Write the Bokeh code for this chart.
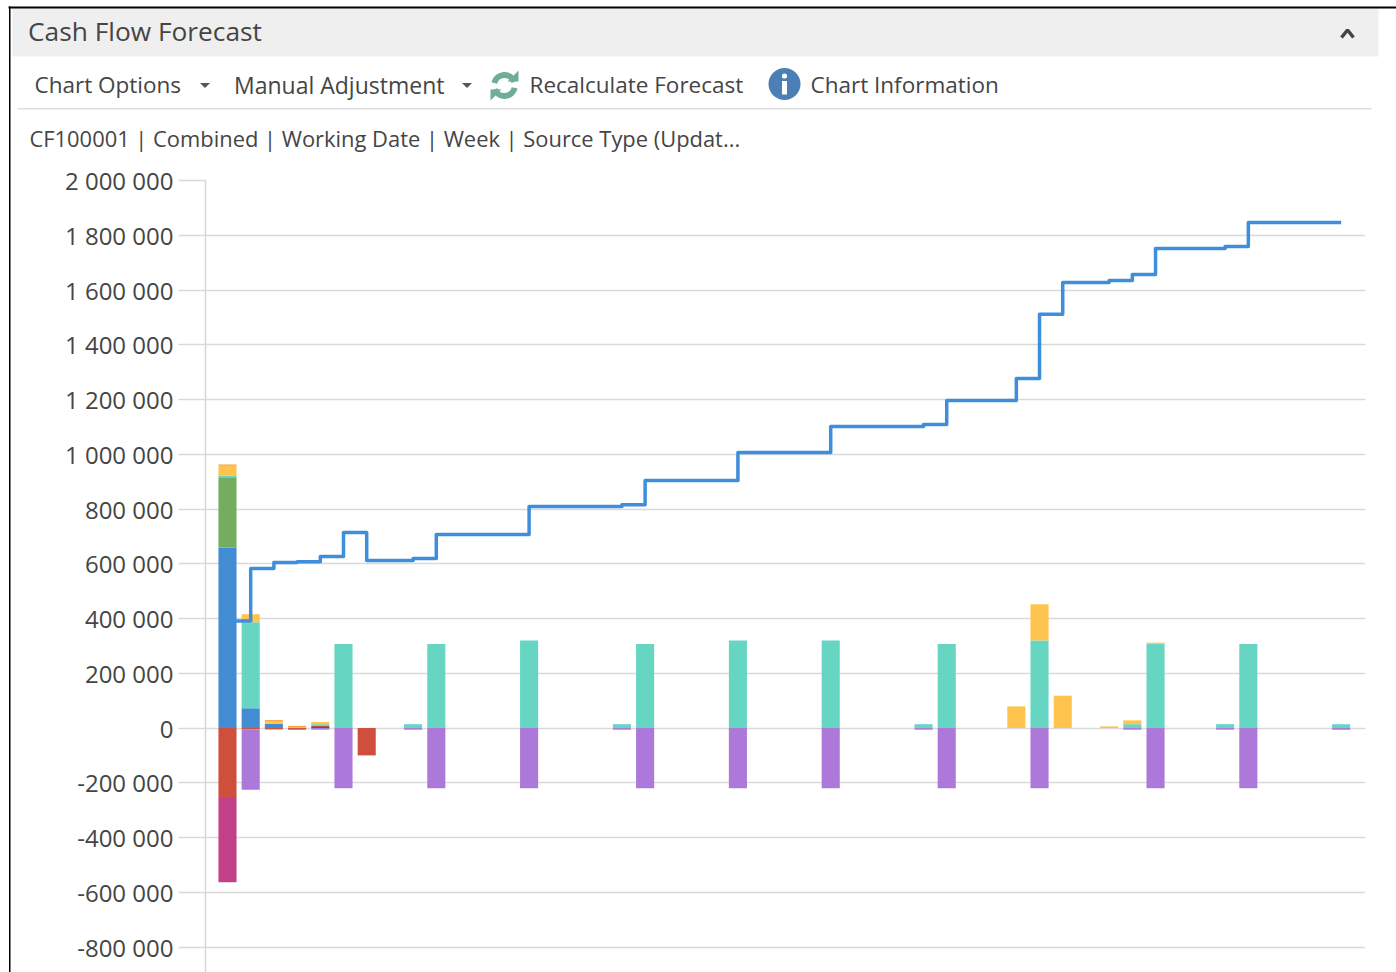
from bokeh.embed import file_html
from bokeh.resources import INLINE
from bokeh.plotting import figure
from bokeh.models import ColumnDataSource, Range1d, FixedTicker
from bokeh.core.properties import value

FONT = "Open Sans"
TEXT = "#454545"

# ---- data (values in currency units) ----
weeks =      [0, 1, 2, 3, 4, 5, 6, 8, 9, 13, 17, 18, 22, 26, 30, 31, 34, 35, 36, 38, 39, 40, 43, 44, 48]
dark_pos =   [0, 0, 0, 0, 7000, 0, 0, 0, 0, 0, 0, 0, 0, 0, 0, 0, 0, 0, 0, 0, 0, 0, 0, 0, 0]
blue =       [659000, 72000, 15000, 0, 0, 0, 0, 0, 0, 0, 0, 0, 0, 0, 0, 0, 0, 0, 0, 0, 0, 0, 0, 0, 0]
green =      [257000, 0, 0, 0, 0, 0, 0, 0, 0, 0, 0, 0, 0, 0, 0, 0, 0, 0, 0, 0, 0, 0, 0, 0, 0]
teal =       [6000, 314000, 0, 0, 7000, 307000, 0, 14000, 307000, 320000, 14000, 307000, 320000, 320000, 14000, 307000, 0, 320000, 0, 0, 14000, 308000, 14000, 307000, 14000]
yellow =     [36000, 30000, 10000, 4000, 8000, 0, 0, 0, 0, 0, 0, 0, 0, 0, 0, 0, 79000, 132000, 118000, 6000, 14000, 4000, 0, 0, 0]
orange =     [5000, 0, 4000, 4000, 0, 0, 0, 0, 0, 0, 0, 0, 0, 0, 0, 0, 0, 0, 0, 0, 0, 0, 0, 0, 0]
red =        [-256000, -5000, -5000, -6000, 0, 0, -100000, 0, 0, 0, 0, 0, 0, 0, 0, 0, 0, 0, 0, 0, 0, 0, 0, 0, 0]
purple =     [0, -220000, 0, 0, -6000, -220000, 0, -6000, -220000, -220000, -6000, -220000, -220000, -220000, -6000, -220000, 0, -220000, 0, 0, -6000, -220000, -6000, -220000, -6000]
magenta =    [-307000, 0, 0, 0, 0, 0, 0, 0, 0, 0, 0, 0, 0, 0, 0, 0, 0, 0, 0, 0, 0, 0, 0, 0, 0]

balance_x = [0.13, 1, 2, 3, 4, 5, 6, 8, 9, 13, 17, 18, 22, 26, 30, 31, 34, 35, 36, 38, 39, 40, 43, 44, 48]
balance_y = [391000, 583000, 605000, 607000, 627000, 714000, 612000, 619000, 707000, 809000, 816000, 904000,
             1006000, 1101000, 1109000, 1196000, 1277000, 1511000, 1627000, 1635000, 1657000, 1752000,
             1759000, 1847000, 1847000]

y_ticks = [2000000, 1800000, 1600000, 1400000, 1200000, 1000000, 800000, 600000, 400000, 200000, 0,
           -200000, -400000, -600000, -800000]
y_labels = ["2 000 000", "1 800 000", "1 600 000", "1 400 000", "1 200 000", "1 000 000", "800 000", "600 000",
            "400 000", "200 000", "0", "-200 000", "-400 000", "-600 000", "-800 000"]

title = "Cash Flow Forecast"
menu_items = ["Chart Options", "Manual Adjustment", "Recalculate Forecast", "Chart Information"]
subtitle = "CF100001 | Combined | Working Date | Week | Source Type (Updat..."

# ---- header panel, drawn in page pixels ----
head = figure(width=1396, height=158, x_range=Range1d(0, 1396), y_range=Range1d(158, 0),
              x_axis_type=None, y_axis_type=None, toolbar_location=None, output_backend="svg",
              min_border=0, outline_line_color=None)
head.grid.visible = False
head.quad(left=[12], right=[1378], top=[8], bottom=[56], fill_color="#efefef", line_color=None)
head.quad(left=[8], right=[1396], top=[6], bottom=[8], fill_color="#000000", line_color=None)
head.quad(left=[8.5], right=[10], top=[6], bottom=[158], fill_color="#000000", line_color=None)
head.quad(left=[17], right=[1371], top=[107.5], bottom=[109], fill_color="#dedede", line_color=None)

def put(x, y, s, size):
    head.text([x], [y], text=[s], text_font=value(FONT), text_font_size=size, text_color=TEXT,
              text_baseline="middle", text_align="left")

put(27.5, 30.5, title, "26.3px")
put(34, 84, menu_items[0], "22.5px")
put(233.5, 84, menu_items[1], "23px")
put(529, 84, menu_items[2], "22.5px")
put(810, 84, menu_items[3], "22.5px")
put(29, 138, subtitle, "21.9px")

# carets
for cx in (204.5, 466.5):
    head.patch([cx - 5, cx + 5, cx], [82.5, 82.5, 87.5], fill_color="#555555", line_color=None)
# collapse chevron
head.line([1341, 1347, 1353], [37, 29.5, 37], line_color="#444444", line_width=3.5)
# refresh icon
rc = "#6fae94"
head.arc([504], [85], radius=10.5, start_angle=[0.35], end_angle=[2.9], direction="anticlock",
         line_color=rc, line_width=6)
head.arc([504], [85], radius=10.5, start_angle=[3.5], end_angle=[6.05], direction="anticlock",
         line_color=rc, line_width=6)
head.patch([507, 518, 518], [81, 81, 70], fill_color=rc, line_color=None)
head.patch([501, 490, 490], [89, 89, 100], fill_color=rc, line_color=None)
# info icon
head.circle([784], [83.5], radius=16, fill_color="#4b7fb6", line_color=None)
head.circle([784], [75.5], radius=2.6, fill_color="#ffffff", line_color=None)
head.quad(left=[781.5], right=[786.5], top=[80.5], bottom=[94], fill_color="#ffffff", line_color=None)

# ---- chart ----
p = figure(width=1396, height=814, x_range=Range1d(-0.948, 49.05), y_range=Range1d(-893000, 2000000),
           toolbar_location=None, output_backend="svg", min_border_left=205, min_border_right=31,
           min_border_top=22, min_border_bottom=0, outline_line_color=None,
           border_fill_color=None,
           styles={"background": "linear-gradient(#000,#000) 8.5px 0 / 1.5px 100% no-repeat"})
p.xaxis.visible = False
p.xgrid.visible = False
p.ygrid.grid_line_color = "#d9d9d9"
p.ygrid.grid_line_width = 1.5
p.ygrid.ticker = FixedTicker(ticks=y_ticks)
ax = p.yaxis[0]
ax.ticker = FixedTicker(ticks=y_ticks)
ax.major_label_overrides = dict(zip(y_ticks, y_labels))
ax.axis_line_color = "#d5d5d5"
ax.axis_line_width = 1.5
ax.major_tick_line_color = "#d9d9d9"
ax.major_tick_line_width = 1.5
ax.major_tick_out = 27
ax.major_tick_in = 0
ax.minor_tick_line_color = None
ax.major_label_standoff = 5
ax.major_label_text_font = FONT
ax.major_label_text_font_size = "24px"
ax.major_label_text_color = TEXT

src = ColumnDataSource(dict(week=weeks, dark_pos=dark_pos, blue=blue, green=green, teal=teal, yellow=yellow,
                            orange=orange, red=red, purple=purple, magenta=magenta))
p.vbar_stack(["dark_pos", "blue", "green", "teal", "yellow", "orange"], x="week", width=0.78, source=src,
             color=["#a8352f", "#418cd2", "#75ad60", "#66d6c3", "#fec44d", "#fb9e3a"], line_color=None)
p.vbar_stack(["red", "purple", "magenta"], x="week", width=0.78, source=src,
             color=["#cd4f3c", "#ac78da", "#c2408a"], line_color=None)
p.step(balance_x, balance_y, mode="after", line_color="#3f8edb", line_width=3.5, line_join="round")

open("out.html", "w").write(file_html([head, p], INLINE))
